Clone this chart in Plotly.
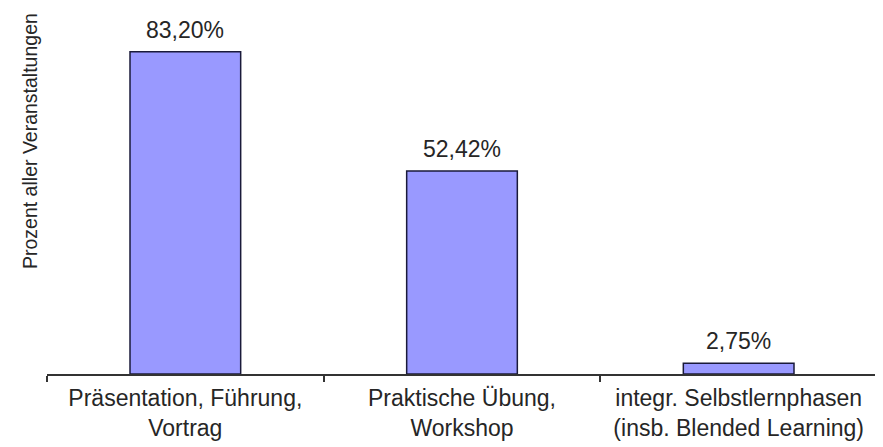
import plotly.graph_objects as go

categories = ["Präsentation, Führung,<br>Vortrag",
              "Praktische Übung,<br>Workshop",
              "integr. Selbstlernphasen<br>(insb. Blended Learning)"]
values = [83.20, 52.42, 2.75]
y_title = "Prozent aller Veranstaltungen"

FONT = "Liberation Sans, Arial, sans-serif"
TXT = "#262626"

# page has an 8px body margin; figure sized to fit the 883x447 window
W, H = 875, 439
L, R, T, B = 39, 6, 0, 73
plot_h = H - T - B

fig = go.Figure(go.Bar(
    x=categories, y=values,
    marker=dict(color="#9999FF", line=dict(color="#1a1a3a", width=1.5)),
    cliponaxis=False,
))

annotations = [dict(x=c, y=v, xref="x", yref="y",
                    text=f"{v:.2f}%".replace(".", ","),
                    showarrow=False, yanchor="bottom", yshift=7,
                    font=dict(family=FONT, size=23, color=TXT))
               for c, v in zip(categories, values)]
annotations.append(dict(text=y_title, textangle=-90, showarrow=False,
                        xref="paper", yref="paper",
                        x=(22 - L) / (W - L - R), y=(plot_h - 133) / plot_h,
                        xanchor="center", yanchor="middle",
                        font=dict(family=FONT, size=19.5, color=TXT)))

fig.update_layout(
    width=W, height=H,
    margin=dict(l=L, r=R, t=T, b=B, autoexpand=False),
    paper_bgcolor="white", plot_bgcolor="white",
    bargap=0.6,
    showlegend=False,
    font=dict(family=FONT, color=TXT),
    xaxis=dict(showline=True, linecolor="#333333", linewidth=1.5,
               ticks="outside", ticklen=6, tickcolor="#333333", tickwidth=1.5,
               tickson="boundaries", automargin=False, ticklabelstandoff=3,
               tickfont=dict(family=FONT, size=23, color=TXT)),
    yaxis=dict(range=[0, plot_h / 3.872], showline=False, showgrid=False,
               showticklabels=False, zeroline=False, ticks="",
               automargin=False),
    annotations=annotations,
)

fig.write_html("out.html")
